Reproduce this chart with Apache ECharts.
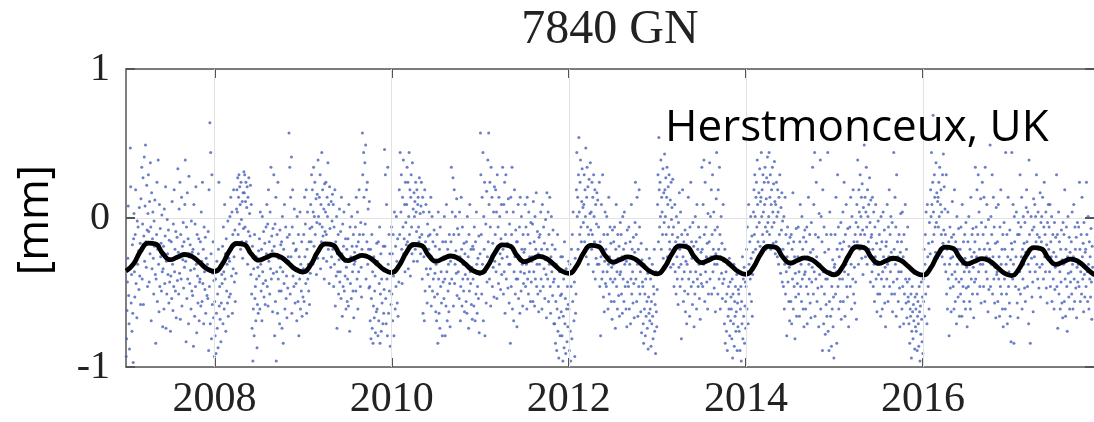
<!DOCTYPE html>
<html>
<head>
<meta charset="utf-8">
<title>7840 GN</title>
<script src="https://cdn.jsdelivr.net/npm/echarts@6/dist/echarts.min.js"></script>
<style>
  html, body { margin: 0; padding: 0; background: #fff; }
  #chart { width: 1094px; height: 422px; }
</style>
</head>
<body>
<div id="chart"></div>
<script>
// Station 7840 (Herstmonceux, UK): loading displacement, GN component [mm].
// Observations: 216 samples per year (18 per month), in hundredths of a millimetre.
const years = [2007, 2008, 2009, 2010, 2011, 2012, 2013, 2014, 2015, 2016, 2017];
const samplesPerYear = 216;

const obs2007 = [
  -93,-81,-62,-43,-27,8,-52,-71,-88,-33,47,21,-57,-38,-76,-18,-64,-97,
  -14,3,-36,-53,-11,19,-44,-27,-67,-2,-31,-6,-22,-48,7,-39,-17,-58,
  13,-21,34,-41,-4,27,-58,-12,41,-29,8,49,-16,-33,22,-8,-46,3,
  29,-9,-43,11,-24,37,-6,-69,17,-34,-14,4,-27,-51,-2,-19,12,-38,
  -84,-41,-11,24,-56,-21,39,-31,-63,9,-46,-7,-26,-17,-49,2,-36,-73,
  -34,-19,-61,6,-44,-12,21,-74,-29,-51,-1,-24,-38,-8,-57,-15,-43,-28,
  -76,-39,-16,-54,11,-31,-62,-4,-46,19,-36,-21,-49,-9,-67,-27,-13,-42,
  33,-23,-51,6,-37,24,-68,-11,-41,14,-59,-19,-28,-3,-47,-16,-33,9,
  39,-29,-83,-6,-54,17,-41,-14,-71,28,-26,-44,-18,-35,-61,-2,-49,-23,
  -52,-21,-86,9,-34,-66,-4,-46,21,-31,-77,-11,-39,-57,-24,-14,-69,-43,
  -41,-16,-59,4,-29,-56,24,-44,-21,-71,-6,-36,-48,-13,-64,-27,-33,-52,
  -31,-54,-9,-89,19,-46,64,-71,44,-24,-81,29,-58,-37,-16,-67,-42,-93
];
const obs2008 = [
  -56,-79,-41,-91,-64,-29,-74,-51,-87,-21,24,-59,-46,-68,-33,-83,-57,-38,
  -44,-19,-71,-6,-36,-61,9,-41,-24,-76,-14,-49,-31,-57,-2,-66,-27,-53,
  -29,1,-51,14,-21,-39,4,-64,-11,-34,19,-26,-43,-8,-56,-17,-37,6,
  19,4,27,-11,14,29,-4,21,9,-21,24,-1,-16,11,-27,17,-7,31,
  17,29,-6,11,24,-16,7,21,-31,14,-9,27,-23,3,-12,22,-38,9,
  -51,-74,-19,-96,-61,-34,-79,-11,-54,-46,-69,-26,-41,-87,-58,-33,-64,-22,
  -39,-14,-61,4,-31,-49,-21,-69,1,-36,-44,-9,-53,-27,-17,-58,-42,-6,
  -24,9,-46,-4,-59,19,-29,-16,-51,4,-34,34,-41,-12,-22,-63,-7,-37,
  29,-19,-79,-4,-56,14,-96,-36,-11,-64,24,-41,-27,-49,-71,-8,-33,-18,
  -49,-16,-74,1,-36,-84,-21,-44,9,-61,-29,-6,-54,-39,-67,-13,-47,-26,
  -29,57,-11,34,-51,14,-26,41,-64,-6,19,-39,-17,-46,6,-33,-57,-22,
  -44,-21,-69,1,-34,-56,-11,-79,-26,-41,4,-61,-31,-49,-16,-66,-37,-53
];
const obs2009 = [
  -34,-11,-56,14,-26,-4,-44,19,-64,-21,4,-41,-31,-49,-16,-58,-7,-37,
  9,-16,29,-6,19,-31,4,34,-19,1,24,-11,-24,13,-38,-3,16,-27,
  39,1,-21,14,-4,29,-34,9,-16,44,-6,19,-12,-27,6,-41,23,-9,
  4,24,-11,-29,14,1,37,-21,9,-44,21,-7,-17,-33,11,-26,-2,16,
  -21,9,-46,-6,-31,19,-59,-16,-39,1,-74,-24,-36,-11,-51,-28,6,-43,
  -36,-9,-54,14,-24,-66,-4,-46,-19,4,-49,-29,-39,-14,-61,-33,-21,-56,
  -41,-14,-59,9,-29,-76,-6,-44,-26,-54,1,-19,-36,-49,-11,-67,-31,-23,
  -29,-6,-49,14,-19,-41,4,-61,-16,-36,19,-11,-26,-46,-3,-33,-53,-21,
  57,29,-11,44,14,-26,37,-4,49,-41,19,-16,24,-31,6,-21,-47,11,
  -46,-69,-21,-81,-54,-11,-74,-36,-84,-59,-26,-67,-49,-39,-77,-31,-63,-17,
  -61,-29,-79,-16,-69,-44,-6,-84,-51,-24,-76,-41,-57,-34,-71,-19,-64,-48,
  46,-19,29,-54,-71,9,-41,-79,34,-31,-64,-11,-49,-24,-86,-37,-58,-6
];
const obs2010 = [
  -51,-24,-69,-11,-39,-79,4,-36,-61,-19,-46,1,-29,-57,-14,-66,-33,-43,
  19,-11,44,-29,4,29,-21,-44,14,-6,39,-24,-14,9,-36,24,-3,-18,
  9,34,-16,24,-34,1,44,-11,19,-39,14,29,-6,-24,37,-19,6,-29,
  17,1,11,-21,24,4,-9,19,-29,9,14,-6,-16,27,-13,3,-24,8,
  24,-11,-41,14,-64,4,-26,-69,19,-49,-16,9,-34,-21,-57,-4,-38,-12,
  -21,4,-46,-11,-34,14,-59,-26,1,-49,-16,-41,-29,-8,-53,-37,-19,-63,
  -31,-69,-11,-51,-84,4,-41,-64,-21,-74,-6,-46,-36,-57,-27,-79,-16,-43,
  -26,-54,1,-41,-79,-16,-59,9,-36,-69,-21,-49,-31,-63,-11,-44,-73,-29,
  -16,34,-41,4,-26,27,-59,-11,19,-44,-31,1,-22,-37,13,-52,-7,-28,
  -36,-11,-54,4,-26,-69,-46,14,-21,-59,-6,-41,-31,-49,-17,-63,-24,-38,
  -31,-56,-16,-64,1,-41,-26,-74,-11,-49,9,-36,-44,-21,-58,-33,-68,-19,
  -41,-21,-59,-6,-36,-69,-16,-51,4,-31,-64,-46,-27,-54,-12,-77,-38,-24
];
const obs2011 = [
  57,29,-11,-51,14,-31,44,-69,1,-21,24,-79,-36,-4,-57,18,-43,-26,
  39,-16,57,9,-41,24,-6,-59,34,-26,14,-46,-17,-33,4,-53,21,-29,
  -11,19,-36,4,-54,29,-21,-6,-44,14,-31,1,-24,-48,-14,9,-38,-27,
  34,-21,-51,9,-36,24,-64,-11,29,-41,4,-26,-17,-47,13,-31,-57,-4,
  -31,-84,14,-46,-11,34,-61,-21,4,-69,-36,19,-26,-51,-8,-41,-16,-73,
  -16,-41,9,-54,-26,-6,-64,14,-36,-49,1,-21,-31,-59,-11,-44,-23,-37,
  -21,9,-46,-6,-31,-61,14,-41,-11,-51,4,-36,-26,-17,-56,-3,-43,-29,
  -26,-4,-56,11,-36,-16,-59,1,-41,-21,17,-46,-31,-9,-51,-24,-63,-13,
  -31,-11,-49,4,-41,-21,-61,9,-26,-46,-6,-34,-17,-54,-28,-1,-38,-67,
  17,-21,-41,4,-56,-11,-31,14,-46,-64,-26,1,-36,-18,-52,-8,-43,-71,
  -41,-71,-21,-84,-56,-31,-89,-61,-11,-76,-46,-94,-67,-36,-79,-52,-26,-63,
  -51,-79,-26,-96,-66,-41,-87,-16,-71,-54,-91,-34,-61,-83,-46,-73,-58,-29
];
const obs2012 = [
  -61,-89,-31,-76,-96,-46,-21,-81,-11,-56,4,-36,-69,-43,-93,-27,-64,-51,
  19,44,1,14,-21,29,54,4,-11,24,39,-6,-16,11,33,-24,7,-3,
  9,29,-16,19,1,47,-26,14,34,-6,21,-31,-11,26,-19,3,37,-8,
  4,-21,24,-11,14,-36,29,1,-16,19,-41,9,-27,-4,17,-31,12,-19,
  -6,-31,24,-46,-16,-79,-26,9,-41,-21,29,-36,-53,-11,-63,-29,4,-44,
  -21,-46,1,-36,-11,-61,-31,14,-51,-26,-6,-41,-17,-56,-33,-68,-8,-43,
  -31,-16,-56,-6,-41,-74,-21,9,-46,-36,-61,-11,-27,-52,-19,-66,-38,-3,
  -36,-11,-51,-26,-64,1,-41,-21,-56,4,-31,-46,-17,-61,-29,-73,-8,-43,
  -26,-46,-6,-61,-31,-16,-71,-41,9,-51,-21,-36,-57,-13,-44,-67,-23,-3,
  24,-41,-11,-56,14,-31,-66,-21,-46,19,-6,-51,-36,-63,-17,-77,-28,-43,
  -46,-71,-84,-31,-61,-51,-79,-41,-66,-21,-56,-74,-37,-88,-53,-64,-27,-69,
  -61,-41,-86,-56,-71,-31,-66,-81,-46,-51,-21,-76,-58,-91,-36,-63,-73,-48
];
const obs2013 = [
  9,29,-16,54,19,-6,24,1,39,-21,14,4,-11,33,-27,17,-3,43,
  19,1,27,-11,14,34,-26,9,21,-6,29,-16,-21,12,-33,24,-1,7,
  -11,26,-31,-6,-46,-21,9,-36,-16,-51,1,-26,-41,-13,-58,-3,-33,17,
  -21,-46,4,-31,-81,-11,-41,19,-26,-56,-16,-36,-49,-8,-63,-29,-18,-71,
  -31,-11,-51,14,-41,-21,-66,-6,-36,24,-46,-16,-27,-58,-3,-43,-19,-73,
  -26,-51,1,-36,-16,-61,9,-41,-21,-46,-6,-31,-54,-13,-68,-38,-23,-44,
  34,-21,-46,9,-31,39,-11,-56,24,-36,-6,-26,-43,-17,-61,3,-51,-29,
  -16,37,-41,1,-26,19,-51,-11,29,-36,-21,4,-47,-31,-8,-63,-24,13,
  44,-31,-6,-51,19,-21,-41,34,-11,-61,-26,1,-37,-17,-54,-44,9,-29,
  -41,-71,-21,-84,-56,-36,-76,-51,-89,-31,-66,-46,-61,-27,-79,-43,-69,-53,
  -61,-81,-41,-94,-51,-71,-31,-86,-56,-66,-46,-76,-63,-38,-89,-57,-73,-48,
  -51,-76,-36,-89,-61,-46,-96,-56,-71,-26,-81,-41,-66,-33,-84,-59,-43,-74
];
const obs2014 = [
  -46,-21,-61,-6,-36,-71,9,-31,-51,-16,-41,1,-27,-56,-12,-66,-38,-23,
  4,19,-11,29,1,-21,14,24,-6,39,9,-16,-27,17,-3,33,-19,11,
  14,44,1,19,-11,29,4,-16,24,9,34,-6,-21,13,27,-9,41,-3,
  24,1,44,-11,14,29,-21,9,19,-6,34,4,-17,23,-3,38,11,-24,
  9,-16,24,1,-26,19,4,-31,14,-11,29,-21,-37,7,-8,17,-43,-2,
  -21,-46,1,-61,-31,14,-51,-11,-36,-79,-26,-6,-43,-17,-56,-33,-69,-13,
  -31,-56,-11,-71,-21,-41,17,-61,-16,-46,-26,-81,-37,-53,-7,-66,-28,-44,
  -26,-6,-51,-36,-66,-16,9,-46,-31,-56,1,-41,-21,-61,-13,-73,-38,-8,
  -36,-61,-16,-46,-6,-71,-26,-51,14,-31,-41,-11,-57,-23,-67,-3,-43,-33,
  34,-21,-51,9,-36,44,-66,-11,-41,24,-26,-56,-31,-47,-13,-73,3,-38,
  -31,39,-61,1,-46,-16,-89,19,-36,-71,-6,-51,-23,-78,-41,-58,-11,-66,
  -41,44,-76,-21,-89,-56,4,-36,-66,-11,-86,-46,-61,-28,-73,-53,-94,-33
];
const obs2015 = [
  -31,-11,-51,14,-36,-84,-21,29,-46,-6,-61,-26,-41,-17,-56,-3,-68,-33,
  -21,-41,4,-56,-16,24,-36,-66,-11,-31,9,-46,-27,-53,-7,-38,-73,-19,
  -26,-6,-46,14,-31,-61,1,-21,-41,19,-51,-16,-33,-57,-11,-43,-3,-68,
  9,-16,39,-6,-31,19,4,-21,29,-11,1,14,-27,23,-8,-38,7,-19,
  49,-11,14,-26,4,34,-6,-31,19,1,-16,9,-21,27,-3,-43,12,-13,
  -11,-36,14,-21,-46,4,-31,-56,-6,-26,9,-41,-17,-63,-29,-51,-2,-38,
  -31,-11,-51,-21,-66,1,-41,-16,-61,-36,4,-26,-46,-8,-57,-33,-73,-19,
  -16,-41,9,-31,-56,-6,-26,19,-46,-11,-36,1,-23,-51,-3,-63,-28,-43,
  44,-21,-51,14,-31,-6,-66,29,-41,-16,-26,-56,-36,-11,-47,-73,-23,3,
  -36,-16,-61,4,-46,-26,-71,-11,-51,-31,9,-41,-57,-21,-67,-43,-6,-53,
  -56,-71,-41,-84,-61,-66,-51,-94,-76,-46,-63,-81,-58,-69,-37,-88,-53,-73,
  -61,-76,-51,-89,-66,-56,-71,-86,-46,-63,-96,-59,-78,-43,-68,-83,-53,-91
];
const obs2016 = [
  -41,-56,-21,-66,-31,-11,-51,4,-36,-71,9,-26,-46,-17,-61,-3,-33,-24,
  19,1,44,9,-16,24,69,4,-11,29,14,-6,-23,37,-3,17,-27,11,
  14,-6,24,1,34,-21,9,19,-11,4,-26,29,-17,43,-8,21,-31,6,
  -11,-36,29,-51,-21,-61,4,-41,-16,-79,-31,-6,-47,-27,-63,-13,-38,11,
  -26,-46,-11,-61,19,-36,-56,-16,-41,-71,1,-31,-21,-53,-7,-43,-66,-28,
  -21,-51,-6,-41,-66,9,-31,-46,-16,-56,-36,-11,-27,-61,-3,-47,-33,-73,
  -31,-16,-46,1,-36,-56,-21,-61,14,-41,-26,-11,-51,-7,-33,-67,-23,-43,
  -16,34,-41,-6,-26,19,-51,-11,29,-36,4,-21,-46,-31,13,-57,-3,-28,
  24,-31,-11,-46,14,-21,-56,34,-6,-36,-26,9,-41,-17,-63,-1,-48,-27,
  -21,49,-46,1,-31,-11,29,-51,-26,14,-41,-6,-57,-33,-17,-67,7,-38,
  -36,-16,-56,9,-41,-26,-66,-6,-46,19,-31,-51,-21,-61,-11,-73,-37,-3,
  -41,-21,-61,44,-31,-51,-11,-71,-26,14,-46,-36,-57,-8,-66,-28,-83,-17
];
const obs2017 = [
  44,-21,-41,9,-31,-84,1,-16,59,-46,-26,4,-36,-57,-11,-67,-3,-48,
  -11,-36,29,-51,-6,-26,14,-61,-21,-41,1,-31,-17,-47,-3,-56,-23,7,
  19,-16,-46,4,-31,-71,39,-11,-36,-84,-21,1,-27,-53,-8,-43,-63,13,
  -6,-26,9,-36,1,-16,29,-31,-11,-41,4,-21,-47,-13,-33,17,-53,-3,
  -16,1,-31,14,-21,-41,-6,24,-26,-11,-36,4,-47,-18,-57,-3,-28,9,
  -21,-6,-36,9,-46,-16,-26,1,-56,-31,-11,-41,-23,-61,-3,-48,-33,-13,
  -26,29,-46,-11,-74,-31,4,-51,-16,-36,-61,-21,-43,-8,-57,-28,-67,-3,
  -31,-11,-56,19,-41,-66,-21,-6,-46,-76,-26,1,-37,-53,-13,-61,-23,-43,
  -36,-16,-51,4,-31,-61,-26,9,-41,-56,-6,-21,-47,-13,-67,-33,-3,-43,
  -31,-6,-46,24,-21,-56,-36,-11,-51,14,-26,-41,-17,-63,-3,-38,-53,-23,
  -21,-46,24,-11,-36,-56,1,-31,-61,-16,-41,-26,-53,-7,-43,-68,-19,-33
];
const observations = [obs2007, obs2008, obs2009, obs2010, obs2011, obs2012,
                      obs2013, obs2014, obs2015, obs2016, obs2017];

// Fitted annual + semi-annual model, sampled at the start of each month [mm].
const fit2007 = [-0.356,-0.310,-0.220,-0.168,-0.175,-0.240,-0.280,-0.262,-0.245,-0.260,-0.300,-0.342];
const fit2008 = [-0.359,-0.313,-0.223,-0.171,-0.178,-0.243,-0.283,-0.265,-0.248,-0.263,-0.303,-0.345];
const fit2009 = [-0.362,-0.316,-0.226,-0.174,-0.181,-0.246,-0.286,-0.268,-0.251,-0.266,-0.306,-0.348];
const fit2010 = [-0.366,-0.320,-0.230,-0.178,-0.185,-0.250,-0.290,-0.272,-0.255,-0.270,-0.310,-0.352];
const fit2011 = [-0.369,-0.323,-0.233,-0.181,-0.188,-0.253,-0.293,-0.275,-0.258,-0.273,-0.313,-0.355];
const fit2012 = [-0.372,-0.326,-0.236,-0.184,-0.191,-0.256,-0.296,-0.278,-0.261,-0.276,-0.316,-0.358];
const fit2013 = [-0.375,-0.329,-0.239,-0.187,-0.194,-0.259,-0.299,-0.281,-0.264,-0.279,-0.319,-0.361];
const fit2014 = [-0.378,-0.332,-0.242,-0.190,-0.197,-0.262,-0.302,-0.284,-0.267,-0.282,-0.322,-0.364];
const fit2015 = [-0.381,-0.335,-0.245,-0.193,-0.200,-0.265,-0.305,-0.287,-0.270,-0.285,-0.325,-0.367];
const fit2016 = [-0.384,-0.338,-0.248,-0.196,-0.203,-0.268,-0.308,-0.290,-0.273,-0.288,-0.328,-0.370];
const fit2017 = [-0.387,-0.341,-0.251,-0.199,-0.206,-0.271,-0.311,-0.293,-0.276,-0.291,-0.331,-0.373];
const fit2018Jan = -0.390;
const fits = [fit2007, fit2008, fit2009, fit2010, fit2011, fit2012,
              fit2013, fit2014, fit2015, fit2016, fit2017];

const yearTicks = [2008, 2010, 2012, 2014, 2016];
const titleText = '7840 GN';
const stationText = 'Herstmonceux, UK';
const unitText = '[mm]';

// Assemble [decimal year, mm] pairs.
const scatterData = [];
years.forEach((yr, k) => {
  observations[k].forEach((v, i) => scatterData.push([yr + (i + 0.5) / samplesPerYear, v / 100]));
});
const fitData = [];
years.forEach((yr, k) => {
  fits[k].forEach((v, m) => fitData.push([yr + m / 12, v]));
});
fitData.push([2018, fit2018Jan]);

const serif = 'Liberation Serif';
const sans = 'Open Sans';
const frameColor = '#555';
const gridColor = '#e2e2e2';

const chart = echarts.init(document.getElementById('chart'), null, { renderer: 'canvas' });

const tickStyle = { color: frameColor, width: 2 };
const frameLine = { show: true, onZero: false, lineStyle: { color: frameColor, width: 1.5 } };

chart.setOption({
  animation: false,
  backgroundColor: '#fff',
  grid: { left: 126, right: -3, top: 69, bottom: 55, containLabel: false },
  xAxis: [
    {
      type: 'value', min: 2007, max: 2017.93, position: 'bottom',
      axisLine: frameLine,
      axisTick: { show: true, inside: true, length: 9, customValues: yearTicks, lineStyle: tickStyle },
      axisLabel: { show: true, customValues: yearTicks, margin: 12,
                   fontFamily: serif, fontSize: 42, color: '#222',
                   formatter: v => String(v) },
      splitLine: { show: false }
    },
    {
      type: 'value', min: 2007, max: 2017.93, position: 'top',
      axisLine: frameLine,
      axisTick: { show: true, inside: true, length: 9, customValues: yearTicks, lineStyle: tickStyle },
      axisLabel: { show: false },
      splitLine: { show: false }
    }
  ],
  yAxis: [
    {
      type: 'value', min: -1, max: 1, interval: 1, position: 'left',
      axisLine: frameLine,
      axisTick: { show: true, inside: true, length: 9, lineStyle: tickStyle },
      axisLabel: { show: true, margin: 16, fontFamily: serif, fontSize: 40, color: '#222' },
      splitLine: { show: true, lineStyle: { color: gridColor, width: 1 } }
    },
    {
      // right-hand frame lies just past the page edge; only its ticks show
      type: 'value', min: -1, max: 1, interval: 1, position: 'right',
      axisLine: { show: false, onZero: false },
      axisTick: { show: true, inside: true, length: 9, lineStyle: tickStyle },
      axisLabel: { show: false },
      splitLine: { show: false }
    }
  ],
  graphic: [
    { type: 'text', x: 610, y: 30,
      style: { text: titleText, font: '48px "' + serif + '"', fill: '#222',
               align: 'center', verticalAlign: 'middle' } },
    { type: 'text', x: 665, y: 128, z: 10,
      style: { text: stationText, font: '44px "' + sans + '"', fill: '#000',
               align: 'left', verticalAlign: 'middle' } },
    { type: 'text', x: 35, y: 220, rotation: Math.PI / 2,
      style: { text: unitText, font: '44px "' + sans + '"', fill: '#000',
               align: 'center', verticalAlign: 'middle' } }
  ],
  series: [
    {
      // vertical grid lines at the labelled years
      type: 'line',
      data: [],
      silent: true,
      z: 1,
      markLine: {
        silent: true,
        symbol: ['none', 'none'],
        label: { show: false },
        lineStyle: { color: gridColor, width: 1, type: 'solid' },
        data: yearTicks.map(v => ({ xAxis: v }))
      }
    },
    {
      type: 'scatter',
      data: scatterData,
      symbol: 'circle',
      symbolSize: 3,
      itemStyle: { color: '#4a63b8', opacity: 0.82 },
      silent: true,
      z: 2
    },
    {
      type: 'line',
      data: fitData,
      smooth: 0.5,
      showSymbol: false,
      symbol: 'none',
      lineStyle: { color: '#000', width: 4.8 },
      silent: true,
      z: 3
    }
  ]
});
</script>
</body>
</html>
